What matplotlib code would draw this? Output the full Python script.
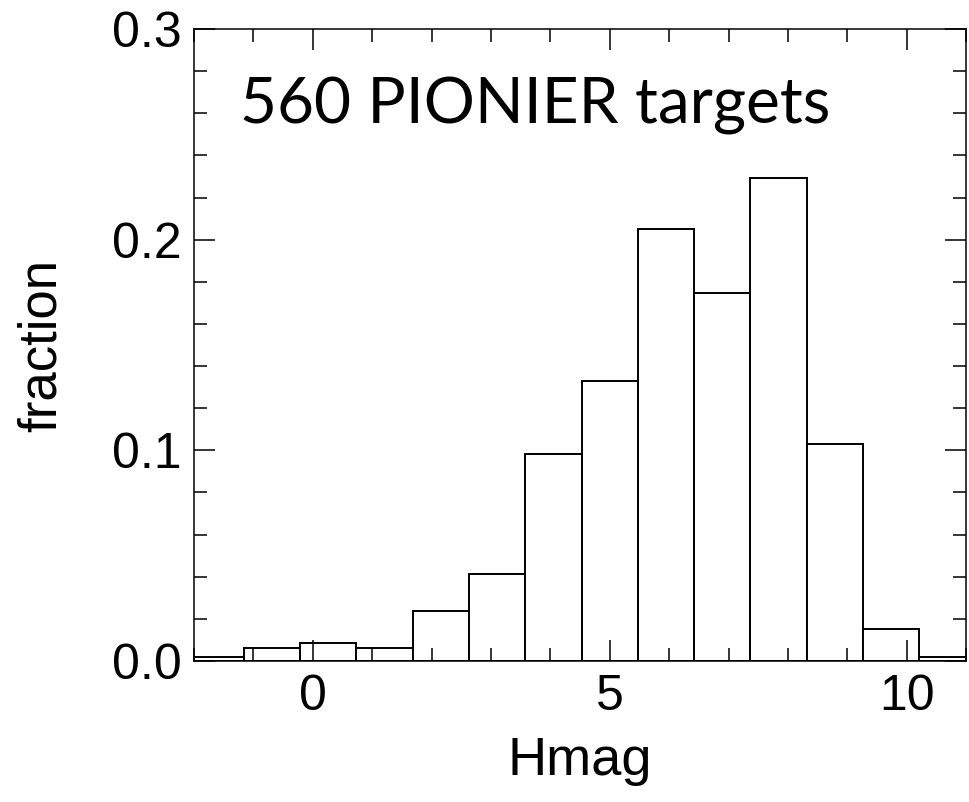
import numpy as np
import matplotlib
matplotlib.use("Agg")
import matplotlib.pyplot as plt
from matplotlib.ticker import MultipleLocator

# histogram of H magnitudes (fraction per bin)
bin_start = -2.11
bin_width = 0.948
fractions = [0.0018, 0.0063, 0.0087, 0.0063, 0.0239, 0.0411, 0.0981,
             0.1330, 0.2053, 0.1747, 0.2294, 0.1028, 0.0150, 0.0018]
label_text = "560 PIONIER targets"

edges = bin_start + bin_width * np.arange(len(fractions) + 1)

plt.rcParams['font.family'] = ['Liberation Sans', 'DejaVu Sans']

fig = plt.figure(figsize=(9.69, 8.02), dpi=100)
ax = fig.add_axes([0.2002, 0.1758, 0.7968, 0.788])

ax.bar(edges[:-1], fractions, width=bin_width, align='edge',
       facecolor='white', edgecolor='black', linewidth=1.4)

ax.set_xlim(-2, 11)
ax.set_ylim(0, 0.3)
ax.xaxis.set_major_locator(MultipleLocator(5))
ax.xaxis.set_minor_locator(MultipleLocator(1))
ax.yaxis.set_major_locator(MultipleLocator(0.1))
ax.yaxis.set_minor_locator(MultipleLocator(0.02))
ax.yaxis.set_major_formatter(plt.FormatStrFormatter('%.1f'))

ax.tick_params(which='both', direction='in', top=True, right=True,
               width=1.1, labelsize=36)
ax.tick_params(which='major', length=15)
ax.tick_params(which='minor', length=9.5)
ax.tick_params(axis='x', which='major', pad=9)
ax.tick_params(axis='y', which='major', pad=9)
for s in ax.spines.values():
    s.set_linewidth(1.1)

ax.set_xlabel('Hmag', fontsize=39, labelpad=12)
ax.set_ylabel('fraction', fontsize=38)
ax.yaxis.set_label_coords(-0.165, 0.5)

ax.text(0.06, 0.85, label_text, transform=ax.transAxes, fontsize=46,
        family=['Lato', 'DejaVu Sans'], ha='left', va='baseline')

fig.savefig('out.png', dpi=100)
